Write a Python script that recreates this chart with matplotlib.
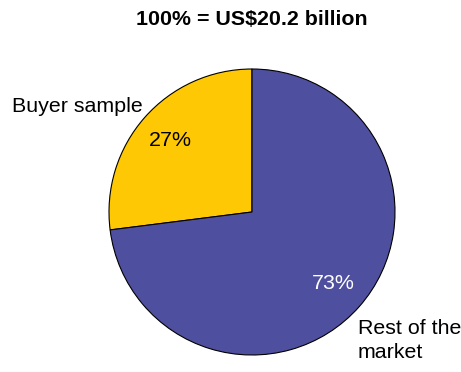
import matplotlib
matplotlib.use("Agg")
import matplotlib.pyplot as plt

# Market share data
categories = ["Buyer sample", "Rest of the\nmarket"]
shares = [27, 73]
colors = ["#FFC805", "#4F4FA0"]
pct_colors = ["black", "white"]
title = "100% = US$20.2 billion"

plt.rcParams["font.family"] = ["Liberation Sans", "DejaVu Sans"]

W, H = 461, 372
fig = plt.figure(figsize=(W / 100, H / 100), dpi=100)
ax = fig.add_axes([0, 0, 1, 1])

cx, cy, r = 252, H - 212, 143
wedges, texts, autotexts = ax.pie(
    shares, colors=colors, startangle=90, counterclock=True,
    center=(cx, cy), radius=r, autopct="%d%%", pctdistance=0.76,
    wedgeprops=dict(edgecolor="black", linewidth=0.8),
    textprops=dict(fontsize=15.4), frame=True,
)
for t, c in zip(autotexts, pct_colors):
    t.set_color(c)
ax.set_xlim(0, W)
ax.set_ylim(0, H)
ax.set_aspect("equal")
ax.axis("off")

ax.text(12, H - 112, categories[0], fontsize=15.4, ha="left", va="baseline")
ax.text(358, H - 358, categories[1], fontsize=15.4, ha="left", va="baseline",
        linespacing=1.3)
ax.text(252, H - 25, title, fontsize=15.4, fontweight="bold",
        ha="center", va="baseline")

fig.savefig("out.png", dpi=100)
